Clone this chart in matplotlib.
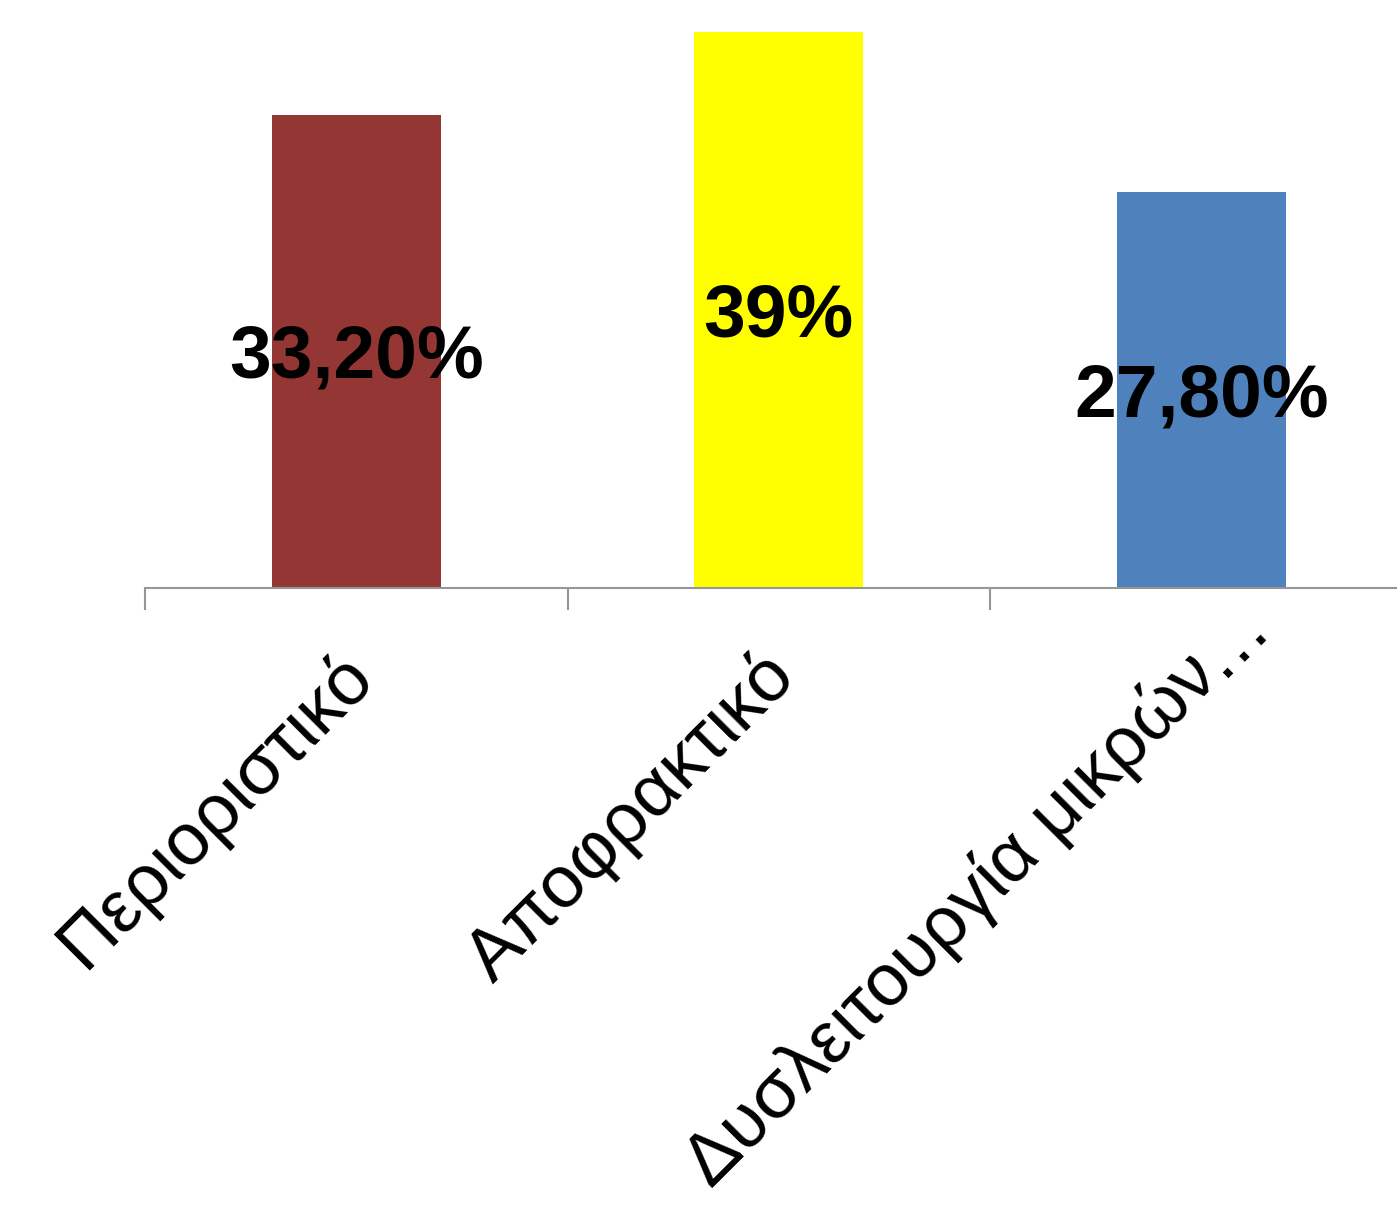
import numpy as np
import matplotlib.pyplot as plt
from matplotlib.transforms import ScaledTranslation

# share of each type
categories = ["Περιοριστικό", "Αποφρακτικό", "Δυσλειτουργία μικρών…"]
values = [33.2, 39.0, 27.8]
value_labels = ["33,20%", "39%", "27,80%"]
colors = ["#943634", "#FFFF00", "#4F81BD"]


def main():
    W, H, dpi = 1397, 1208, 100
    fig = plt.figure(figsize=(W / dpi, H / dpi), dpi=dpi)
    # axis runs off the right edge of the figure
    ax = fig.add_axes([145 / W, 620 / H, 1267.5 / W, 588 / H])

    x = np.arange(len(values))
    bars = ax.bar(x, values, width=0.4, color=colors, zorder=2)

    for b, lab in zip(bars, value_labels):
        ax.annotate(lab, (b.get_x() + b.get_width() / 2, b.get_height() / 2),
                    xytext=(0, -5), textcoords="offset points",
                    ha="center", va="center", fontsize=54, fontweight="bold",
                    family="Liberation Sans", color="black", zorder=3)

    ax.set_xlim(-0.5, len(values) - 0.5)
    ax.set_ylim(0, 41.25)

    for s in ["top", "right", "left"]:
        ax.spines[s].set_visible(False)
    ax.spines["bottom"].set_color("#969696")
    ax.spines["bottom"].set_linewidth(1.5)
    ax.set_yticks([])

    # tick marks between categories
    ax.set_xticks(np.arange(len(values) + 1) - 0.5)
    ax.set_xticklabels([])
    ax.tick_params(axis="x", length=16, width=1.5,
                   color="#969696", direction="out")

    # rotated category labels; a trailing ellipsis hangs past the anchor
    trans = ax.get_xaxis_transform() + ScaledTranslation(
        -0.20, -0.52, fig.dpi_scale_trans)
    kw = dict(transform=trans, rotation=45, rotation_mode="anchor",
              va="top", fontsize=53, family="Liberation Sans",
              clip_on=False)
    for i, cat in enumerate(categories):
        if cat.endswith("…"):
            ax.text(i, 0, cat[:-1], ha="right", **kw)
            ax.text(i, 0, "…", ha="left", **kw)
        else:
            ax.text(i, 0, cat, ha="right", **kw)

    fig.savefig("out.png", dpi=dpi)


if __name__ == '__main__':
    main()
